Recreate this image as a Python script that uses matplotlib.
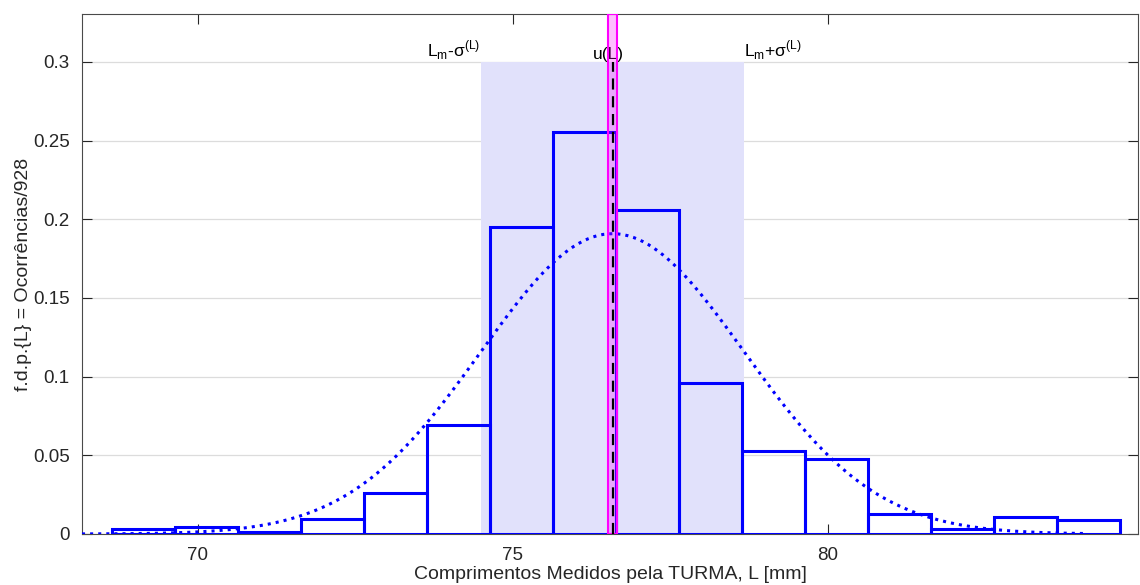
import numpy as np
import matplotlib.pyplot as plt

plt.rcParams['font.family'] = ['Liberation Sans', 'DejaVu Sans']
plt.rcParams['mathtext.fontset'] = 'custom'
plt.rcParams['mathtext.rm'] = 'Liberation Sans'

# histograma: classes de 1 mm e ocorrencias
bin_edges = [68.63, 69.63, 70.63, 71.63, 72.63, 73.63, 74.63, 75.63, 76.63,
             77.63, 78.63, 79.63, 80.63, 81.63, 82.63, 83.63, 84.63]
counts = [3, 4, 1, 9, 24, 64, 181, 237, 191, 89, 49, 44, 12, 3, 10, 8]
n_total = 928

# estatisticas da turma
L_mean = 76.58
L_sigma = 2.09
u_L = 0.07

xlim = (68.16, 84.92)
ylim = (0, 0.3305)
curve_range = (68.16, 84.1)

edges = np.array(bin_edges)
fdp = np.array(counts) / n_total

fig = plt.figure(figsize=(11.4, 5.85), dpi=100)
ax = fig.add_axes([82 / 1140, 51 / 585, 1056 / 1140, 520 / 585])

# faixa +-sigma
ax.fill_between([L_mean - L_sigma, L_mean + L_sigma], 0, 0.3,
                color='#e1e1fb', lw=0, zorder=1)

# histograma
ax.bar(edges[:-1], fdp, width=np.diff(edges), align='edge', fill=False,
       edgecolor='blue', linewidth=2.2, zorder=3)

# normal
xs = np.linspace(*curve_range, 400)
pdf = np.exp(-0.5 * ((xs - L_mean) / L_sigma) ** 2) / (L_sigma * np.sqrt(2 * np.pi))
ax.plot(xs, pdf, ':', color='blue', linewidth=2.2, zorder=4)

# incerteza da media
ax.axvspan(L_mean - u_L, L_mean + u_L, facecolor=(1, 0, 1, 0.25),
           edgecolor='magenta', linewidth=1.5, zorder=5)
ax.plot([L_mean, L_mean], [0, 0.3], '--', color='black', linewidth=1.6,
        dashes=(5, 3), zorder=6)

ax.text(L_mean - L_sigma, 0.3, r'L$_{\rm m}$-σ$^{\rm (L)}$', ha='right',
        va='bottom', fontsize=12.5, color='black')
ax.text(L_mean - 0.07, 0.3, 'u(L)', ha='center', va='bottom', fontsize=12.5,
        color='black')
ax.text(L_mean + L_sigma, 0.3, r'L$_{\rm m}$+σ$^{\rm (L)}$', ha='left',
        va='bottom', fontsize=12.5, color='black')

ax.set_xlim(*xlim)
ax.set_ylim(*ylim)
ax.set_xticks([70, 75, 80])
ax.set_yticks([0, 0.05, 0.1, 0.15, 0.2, 0.25, 0.3])
ax.set_yticklabels(['0', '0.05', '0.1', '0.15', '0.2', '0.25', '0.3'])
ax.yaxis.grid(True, color='#dcdcdc', linewidth=0.9)
ax.set_axisbelow(True)
ax.tick_params(direction='in', top=True, right=True, length=7, width=0.8,
               colors='#262626', labelsize=13.5, pad=9)
for sp in ax.spines.values():
    sp.set_color('#4a4a4a')
    sp.set_linewidth(0.8)

ax.set_xlabel('Comprimentos Medidos pela TURMA, L [mm]', fontsize=14,
              color='#262626', labelpad=2)
ax.set_ylabel('f.d.p.{L} = Ocorrências/928', fontsize=14, color='#262626')
ax.yaxis.set_label_coords(-0.047, 0.5)

fig.savefig('out.png', dpi=100)
